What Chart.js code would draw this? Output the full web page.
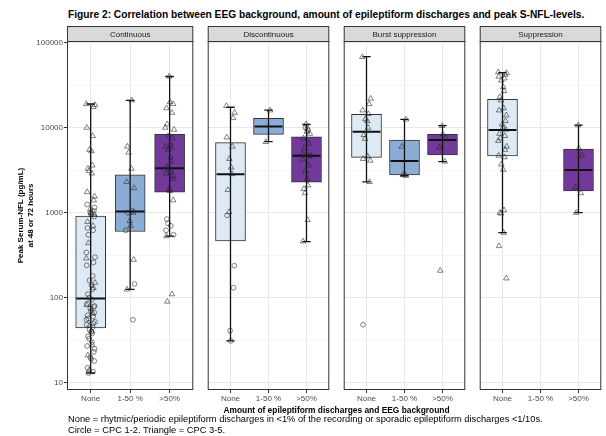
<!DOCTYPE html>
<html>
<head>
<meta charset="utf-8">
<script src="https://cdn.jsdelivr.net/npm/chart.js@4.4.1/dist/chart.umd.min.js"></script>
<style>
  html, body { margin: 0; padding: 0; background: #fff; }
  body { position: relative; width: 606px; height: 436px; overflow: hidden;
         font-family: 'Liberation Sans', Arial, Helvetica, sans-serif; color: #000; }
  canvas { position: absolute; top: 26px; }
  .txt { position: absolute; white-space: nowrap; line-height: 1; }
</style>
</head>
<body>
<div class="txt" style="left:68px; top:10px; font-size:10.2px; font-weight:bold;">Figure 2: Correlation between EEG background, amount of epileptiform discharges and peak S-NFL-levels.</div>
<canvas id="p0" width="198" height="380" style="left:0"></canvas>
<canvas id="p1" width="131" height="380" style="left:203px"></canvas>
<canvas id="p2" width="131" height="380" style="left:339px"></canvas>
<canvas id="p3" width="131" height="380" style="left:475px"></canvas>
<div class="txt" style="left:67px; width:539px; text-align:center; top:406px; font-size:8.4px; font-weight:bold;">Amount of epileptiform discharges and EEG background</div>
<div class="txt" style="left:68px; top:415px; font-size:9.3px;">None = rhytmic/periodic epileptiform discharges in &lt;1% of the recording or sporadic epileptiform discharges &lt;1/10s.</div>
<div class="txt" style="left:68px; top:426px; font-size:9.3px;">Circle = CPC 1-2. Triangle = CPC 3-5.</div>
<script>
// Peak serum NfL by EEG background (facets) and amount of epileptiform
// discharges (x). One Chart.js chart per facet, sharing the same log y range.
const groups = ['None', '1-50 %', '>50%'];
const panels = ['Continuous', 'Discontinuous', 'Burst suppression', 'Suppression'];
const majorTicks = [10, 100, 1000, 10000, 100000];
const minorTicks = [31.6, 316, 3160, 31600];

// [lower whisker, Q1, median, Q3, upper whisker] per discharge group (null = no patients)
const contBox = [[13, 44, 98, 915, 19000], [125, 600, 1030, 2780, 21000], [530, 1740, 3330, 8360, 40000]];
const discBox = [[31, 465, 2830, 6670, 17400], [6840, 8360, 10300, 12900, 16100], [456, 2280, 4690, 7830, 10960]];
const burstBox = [[2300, 4480, 8970, 14400, 68400], [2720, 2780, 4060, 7160, 12560], [3980, 4770, 7160, 8360, 10560]];
const suppBox = [[582, 4650, 9400, 21600, 44400], null, [1000, 1800, 3180, 5600, 10700]];

// single patients, circle = CPC 1-2, triangle = CPC 3-5
const contCircles = [
  [1250, 1150, 1050, 1000, 950, 900, 660, 620, 550, 340, 300, 260, 240, 180, 160, 140, 125, 110, 100, 95,
   85, 80, 78, 75, 70, 67, 62, 60, 57, 55, 52, 50, 48, 45, 42, 40, 38, 35, 33, 30, 27, 25, 23, 20, 19, 18, 15, 13.5, 13],
  [1050, 1000, 620, 145, 55],
  [8000, 6200, 3100, 840, 750, 700, 620, 550]
];
const contTriangles = [
  [19000, 18500, 17500, 10000, 8000, 5500, 5300, 3600, 3300, 3100, 2900, 1750, 1550, 1400, 1100, 1000, 960,
   780, 700, 440, 290, 150, 130, 82, 65, 47, 40, 28, 21, 14],
  [21000, 6000, 5100, 3300, 2300, 1950, 1000, 800, 700, 280, 125],
  [40000, 20000, 19000, 17000, 15000, 11000, 10000, 9500, 7500, 6000, 5800, 5500, 4500, 4000, 3500, 3300,
   3000, 2900, 2700, 2500, 1900, 1800, 1400, 530, 110, 90]
];
const discCircles = [[930, 238, 131, 41, 31], [], [10000, 9700, 9300]];
const discTriangles = [
  [18000, 15000, 13000, 7700, 6000, 4300, 3400, 2850, 1850, 1020],
  [16000, 6800],
  [11000, 9000, 8500, 7500, 6500, 5800, 5000, 4700, 4600, 4200, 3600, 3100, 2500, 2100, 1900, 1700, 820, 460]
];
const burstCircles = [[48], [], []];
const burstTriangles = [
  [68000, 22000, 19000, 16000, 14500, 12600, 12000, 10000, 8200, 7400, 4600, 4300, 4100, 2300],
  [12500, 6000, 2780, 2720],
  [10500, 8400, 7500, 5900, 4000, 208]
];
const suppCircles = [[], [], []];
const suppTriangles = [
  [45000, 44000, 42000, 40000, 38000, 36000, 30000, 27000, 23000, 21000, 17000, 16000, 14000, 12000, 11000,
   10000, 9500, 8500, 8000, 7500, 7000, 6000, 5500, 4700, 4500, 3700, 3200, 1070, 1000, 980, 582, 405, 169],
  [],
  [10700, 5700, 4700, 2000, 1700, 1000]
];

const FILL = ['#dde9f4', '#8badd5', '#72399b'];
const INK = '#1a1a1a';
const TICK_COLOR = '#4d4d4d';
const GRID_COLOR = '#e8e8e8';
// fixed horizontal spread of the points (like geom_jitter), in category units
const JITTER = [-0.09, 0.06, -0.03, 0.10, -0.06, 0.02, 0.08, -0.11, 0.04, -0.01,
                0.11, -0.07, 0.01, 0.07, -0.04, 0.09, -0.10, 0.03, -0.08, 0.05];

Chart.defaults.font.family = "'Liberation Sans', Arial, Helvetica, sans-serif";

function isMajor(v) {
  return majorTicks.indexOf(v) !== -1;
}

// panel border + grey strip with the facet name
const facetFrame = {
  id: 'facetFrame',
  afterDraw(chart, args, opts) {
    const ctx = chart.ctx;
    const a = chart.chartArea;
    const w = a.right - a.left;
    ctx.save();
    ctx.lineWidth = 1;
    ctx.strokeStyle = '#333';
    ctx.strokeRect(a.left + 0.5, a.top + 0.5, w - 1, a.bottom - a.top - 1);
    ctx.fillStyle = '#d9d9d9';
    ctx.fillRect(a.left + 0.5, 0.5, w - 1, a.top);
    ctx.strokeRect(a.left + 0.5, 0.5, w - 1, a.top);
    ctx.fillStyle = INK;
    ctx.font = "8px 'Liberation Sans', Arial, sans-serif";
    ctx.textAlign = 'center';
    ctx.textBaseline = 'middle';
    ctx.fillText(opts.label, a.left + w / 2, a.top / 2 + 1);
    ctx.restore();
  }
};

function jittered(lists, shift) {
  const out = [];
  lists.forEach(function (vals, g) {
    vals.forEach(function (v, i) {
      out.push({ x: g + 1 + JITTER[(i * 3 + g + shift) % JITTER.length], y: v });
    });
  });
  return out;
}

function buildPanel(canvasId, idx, box, circles, triangles, withAxis) {
  const boxes = [], whiskers = [], medians = [];
  box.forEach(function (b, g) {
    if (!b) return;
    const c = g + 1;
    boxes.push({ x: c, y: [b[1], b[3]] });
    whiskers.push({ x: c, y: b[0] }, { x: c, y: b[4] }, { x: c, y: null });
    whiskers.push({ x: c - 0.11, y: b[0] }, { x: c + 0.11, y: b[0] }, { x: c, y: null });
    whiskers.push({ x: c - 0.11, y: b[4] }, { x: c + 0.11, y: b[4] }, { x: c, y: null });
    medians.push({ x: c - 0.367, y: b[2] }, { x: c + 0.367, y: b[2] }, { x: c, y: null });
  });

  const pointBase = {
    type: 'line',
    showLine: false,
    pointBackgroundColor: 'rgba(0,0,0,0)',
    pointBorderColor: 'rgba(35,35,35,0.8)',
    pointBorderWidth: 0.7,
    order: 0
  };

  // eslint-disable-next-line no-new
  new Chart(document.getElementById(canvasId), {
    type: 'bar',
    data: {
      datasets: [
        Object.assign({ label: 'CPC 1-2', data: jittered(circles, 0), pointStyle: 'circle', pointRadius: 2.4 }, pointBase),
        Object.assign({ label: 'CPC 3-5', data: jittered(triangles, 7), pointStyle: 'triangle', pointRadius: 3.2 }, pointBase),
        {
          type: 'line', label: 'median', data: medians, order: 1,
          borderColor: '#111', borderWidth: 2, pointRadius: 0, spanGaps: false
        },
        {
          type: 'line', label: 'whiskers', data: whiskers, order: 2,
          borderColor: '#111', borderWidth: 1.3, pointRadius: 0, spanGaps: false
        },
        {
          type: 'bar', label: 'IQR', data: boxes, order: 3,
          backgroundColor: function (ctx) { return FILL[ctx.raw.x - 1]; },
          borderColor: '#333', borderWidth: 1, borderSkipped: false, barThickness: 30
        }
      ]
    },
    options: {
      responsive: false,
      animation: false,
      events: [],
      layout: { padding: { top: 15, left: 0, right: 0, bottom: 0 } },
      plugins: {
        legend: { display: false },
        tooltip: { enabled: false },
        facetFrame: { label: panels[idx] }
      },
      scales: {
        x: {
          type: 'linear',
          min: 0.4,
          max: 3.6,
          offset: false,
          afterBuildTicks: function (s) { s.ticks = [1, 2, 3].map(function (v) { return { value: v }; }); },
          afterFit: function (s) { s.height = 16; },
          ticks: {
            callback: function (v) { return groups[v - 1]; },
            font: { size: 8 }, color: TICK_COLOR, padding: 1, maxRotation: 0, autoSkip: false
          },
          grid: { offset: false, color: GRID_COLOR, lineWidth: 1, tickLength: 3, tickColor: '#333' },
          border: { display: false }
        },
        y: {
          type: 'logarithmic',
          min: 8.2,
          max: 104700,
          afterBuildTicks: function (s) {
            s.ticks = majorTicks.concat(minorTicks).sort(function (a, b) { return a - b; })
              .map(function (v) { return { value: v }; });
          },
          afterFit: function (s) { s.width = withAxis ? 67 : 0; },
          ticks: {
            display: withAxis,
            callback: function (v) { return isMajor(v) ? String(v) : ''; },
            font: { size: 8 }, color: TICK_COLOR, padding: 1, autoSkip: false
          },
          grid: {
            color: function (c) { return isMajor(c.tick.value) ? GRID_COLOR : '#f0f0f0'; },
            lineWidth: function (c) { return isMajor(c.tick.value) ? 1 : 0.7; },
            drawTicks: withAxis,
            tickLength: 3,
            tickColor: function (c) { return isMajor(c.tick.value) ? '#333' : 'rgba(0,0,0,0)'; }
          },
          border: { display: false },
          title: {
            display: withAxis,
            text: ['Peak Serum-NFL (pg/mL)', 'at 48 or 72 hours'],
            font: { size: 8, weight: 'bold' },
            color: '#000',
            padding: { top: 16, bottom: 0 }
          }
        }
      }
    },
    plugins: [facetFrame]
  });
}

buildPanel('p0', 0, contBox, contCircles, contTriangles, true);
buildPanel('p1', 1, discBox, discCircles, discTriangles, false);
buildPanel('p2', 2, burstBox, burstCircles, burstTriangles, false);
buildPanel('p3', 3, suppBox, suppCircles, suppTriangles, false);
</script>
</body>
</html>
